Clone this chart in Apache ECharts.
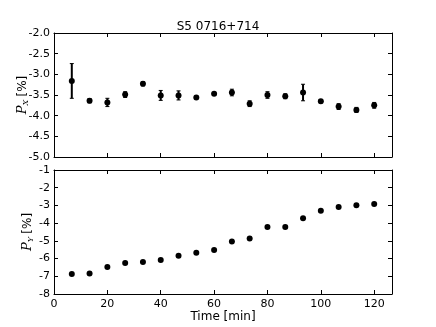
<!DOCTYPE html>
<html>
<head>
<meta charset="utf-8">
<script src="https://cdn.jsdelivr.net/npm/echarts@6/dist/echarts.min.js"></script>
<style>
html, body { margin: 0; padding: 0; background: #fff; }
#chart { width: 436px; height: 327px; }
</style>
</head>
<body>
<div id="chart"></div>
<script>
// data
var times = [6.67, 13.33, 20, 26.67, 33.33, 40, 46.67, 53.33, 60, 66.67, 73.33, 80, 86.67, 93.33, 100, 106.67, 113.33, 120];
var px = [-3.16, -3.64, -3.68, -3.49, -3.23, -3.51, -3.51, -3.56, -3.47, -3.44, -3.71, -3.50, -3.53, -3.44, -3.65, -3.78, -3.86, -3.75];
var pxErr = [0.42, 0.05, 0.10, 0.07, 0.05, 0.12, 0.11, 0.03, 0.03, 0.08, 0.07, 0.08, 0.06, 0.20, 0.04, 0.07, 0.06, 0.07];
var py = [-6.87, -6.84, -6.48, -6.25, -6.19, -6.08, -5.84, -5.67, -5.52, -5.03, -4.86, -4.22, -4.22, -3.73, -3.30, -3.09, -2.99, -2.92];

var myChart = echarts.init(document.getElementById('chart'));

var font = 'DejaVu Sans';
var lineStyle = { color: '#000', width: 1 };

function xAx(grid, pos) {
	return {
		type: 'value', gridIndex: grid, position: pos,
		min: 0, max: 126.67, interval: 20,
		axisLine: { show: true, onZero: false, lineStyle: lineStyle },
		axisTick: { show: true, inside: true, length: 4, lineStyle: lineStyle },
		axisLabel: {
			show: grid === 1 && pos === 'bottom',
			showMaxLabel: false, color: '#000', fontFamily: font, fontSize: 11, margin: 5
		},
		splitLine: { show: false },
		name: grid === 1 && pos === 'bottom' ? 'Time [min]' : '',
		nameLocation: 'middle', nameGap: 17,
		nameTextStyle: { color: '#000', fontFamily: font, fontSize: 12 }
	};
}

function yAx(grid, pos, min, max, step, dec, sub) {
	return {
		type: 'value', gridIndex: grid, position: pos,
		min: min, max: max, interval: step,
		axisLine: { show: true, onZero: false, lineStyle: lineStyle },
		axisTick: { show: true, inside: true, length: 4, lineStyle: lineStyle },
		axisLabel: {
			show: pos === 'left', color: '#000', fontFamily: font, fontSize: 11, margin: 4,
			formatter: function (v) { return v.toFixed(dec); }
		},
		splitLine: { show: false },
		name: pos === 'left' ? '{p|P}{s|' + sub + '} {b|[%]}' : '',
		nameLocation: 'middle', nameRotate: 90, nameGap: dec ? 24 : 19,
		nameMoveOverlap: false,
		nameTextStyle: {
			color: '#000',
			rich: {
				p: { fontFamily: 'DejaVu Serif', fontStyle: 'italic', fontSize: 13, color: '#000' },
				s: { fontFamily: 'DejaVu Serif', fontStyle: 'italic', fontSize: 8, color: '#000', verticalAlign: 'bottom', padding: [6, 0, 0, 0] },
				b: { fontFamily: font, fontSize: 12, color: '#000' }
			}
		}
	};
}

var pxData = times.map(function (t, i) { return [t, px[i]]; });
var pyData = times.map(function (t, i) { return [t, py[i]]; });
var errData = times.map(function (t, i) { return [t, px[i] - pxErr[i], px[i] + pxErr[i]]; });

var option = {
	animation: false,
	title: {
		text: 'S5 0716+714', left: 'center', top: 16,
		textStyle: { color: '#000', fontFamily: font, fontSize: 12, fontWeight: 'normal' }
	},
	grid: [
		{ left: 54, top: 33, width: 338, height: 124 },
		{ left: 54, top: 170, width: 338, height: 124 }
	],
	xAxis: [xAx(0, 'bottom'), xAx(0, 'top'), xAx(1, 'bottom'), xAx(1, 'top')],
	yAxis: [
		yAx(0, 'left', -5, -2, 0.5, 1, 'X'), yAx(0, 'right', -5, -2, 0.5, 1, 'X'),
		yAx(1, 'left', -8, -1, 1, 0, 'Y'), yAx(1, 'right', -8, -1, 1, 0, 'Y')
	],
	series: [
		{
			type: 'custom', xAxisIndex: 0, yAxisIndex: 0, data: errData,
			renderItem: function (params, api) {
				var lo = api.coord([api.value(0), api.value(1)]);
				var hi = api.coord([api.value(0), api.value(2)]);
				var st = { stroke: '#000', lineWidth: 2 };
				return {
					type: 'group', children: [
						{ type: 'line', shape: { x1: lo[0], y1: lo[1], x2: hi[0], y2: hi[1] }, style: st },
						{ type: 'line', shape: { x1: lo[0] - 2, y1: lo[1], x2: lo[0] + 2, y2: lo[1] }, style: { stroke: '#000', lineWidth: 1 } },
						{ type: 'line', shape: { x1: hi[0] - 2, y1: hi[1], x2: hi[0] + 2, y2: hi[1] }, style: { stroke: '#000', lineWidth: 1 } }
					]
				};
			}
		},
		{
			type: 'scatter', xAxisIndex: 0, yAxisIndex: 0, data: pxData,
			symbolSize: 6, itemStyle: { color: '#000', opacity: 1 }
		},
		{
			type: 'scatter', xAxisIndex: 2, yAxisIndex: 2, data: pyData,
			symbolSize: 6, itemStyle: { color: '#000', opacity: 1 }
		}
	]
};

myChart.setOption(option);
</script>
</body>
</html>
